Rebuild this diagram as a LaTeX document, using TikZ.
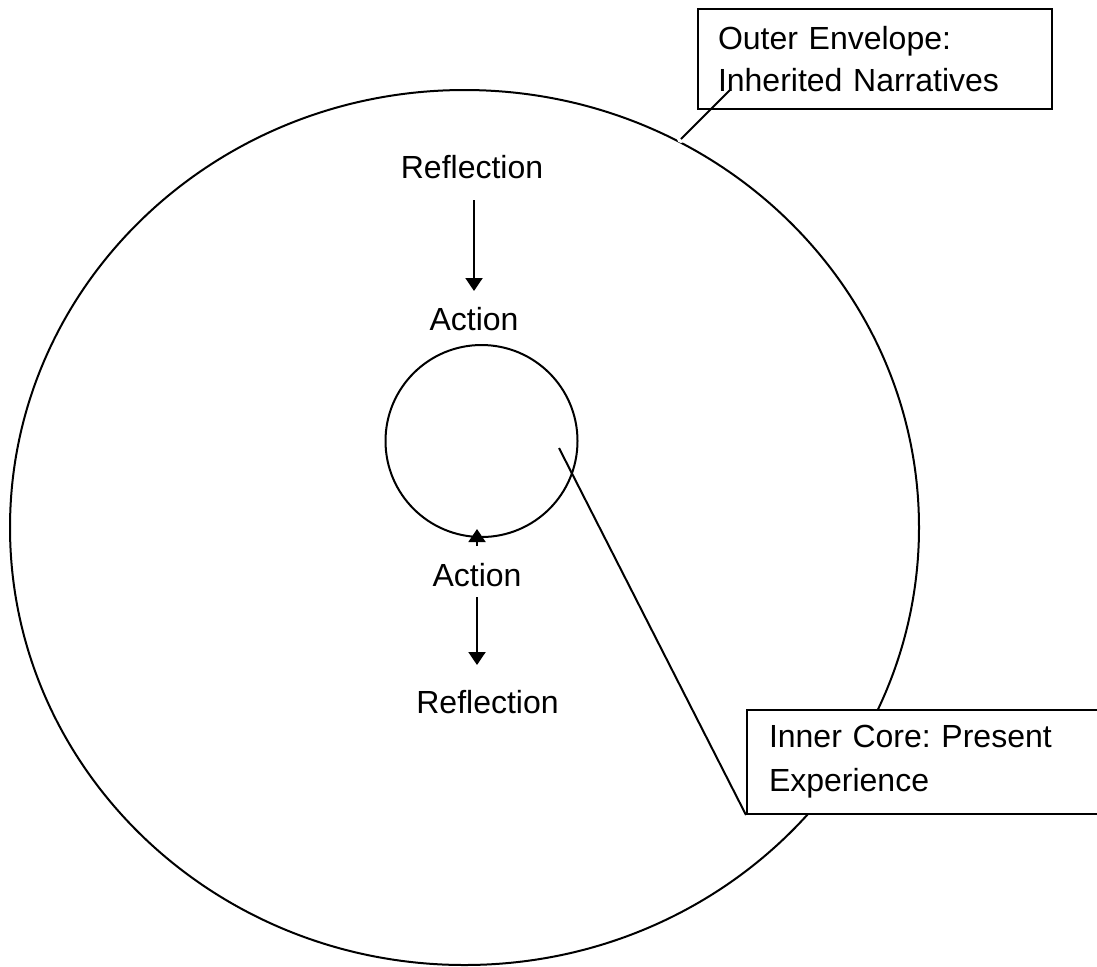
\documentclass[tikz,border=0pt]{standalone}
\usepackage{fontspec}
\setmainfont{Liberation Sans}
\usepackage{tikz}
\usetikzlibrary{calc,arrows.meta}
\usetikzlibrary{shapes.geometric}
\frenchspacing

\begin{document}
\begin{tikzpicture}[x=0.5pt, y=-0.5pt, line width=1pt,
    word/.style={anchor=base, inner sep=0pt, font=\fontsize{16pt}{21pt}\selectfont},
    callout/.style={draw, fill=white, rectangle, anchor=north west, align=left, inner ysep=0pt},
    flow/.style={-{Triangle[width=8.5pt, length=6.5pt]}}]

    \useasboundingbox (0,0) rectangle (1097,966);
    \clip (0,0) rectangle (1097,966);

    % Outer envelope and inner core
    \node[draw, ellipse, minimum width=454.5pt, minimum height=437.5pt, inner sep=0pt] (envelope) at (464.5,527.5) {};
    \node[draw, circle, minimum size=96pt, inner sep=0pt] (core) at (481.5,441) {};

    % Reflection / action cycle
    \node[word] (refTop) at (472,178) {Reflection};
    \node[word] (actTop) at (474,330) {Action};
    \node[word] (actBot) at (477,586) {Action};
    \node[word] (refBot) at (487.5,713) {Reflection};

    \draw[flow] (actTop.base) ++(0,-130) -- ++(0,91);
    \draw[flow] (actBot.base) ++(0,-40) -- ++(0,-17);
    \draw[flow] (actBot.base) ++(0,11) -- ++(0,68);

    % Callouts
    \node[callout, minimum width=177pt, minimum height=50pt, text width=157pt, inner xsep=10pt,
          font=\fontsize{16pt}{21pt}\selectfont] (envLbl) at (697,8) {Outer Envelope:\\Inherited Narratives};
    \node[callout, minimum width=200pt, minimum height=52pt, text width=178pt, inner xsep=11pt,
          font=\fontsize{16pt}{22pt}\selectfont] (coreLbl) at (746,709) {Inner Core: Present\\Experience};

    % Leader lines
    \coordinate (envTip) at (681,139);
    \coordinate (envEnd) at (730,90);
    \coordinate (coreTip) at (559,448);
    \fill[white] (envTip) circle (2pt);
    \draw (envTip) -- (envEnd);
    \draw (coreTip) -- (coreLbl.south west);

\end{tikzpicture}
\end{document}
